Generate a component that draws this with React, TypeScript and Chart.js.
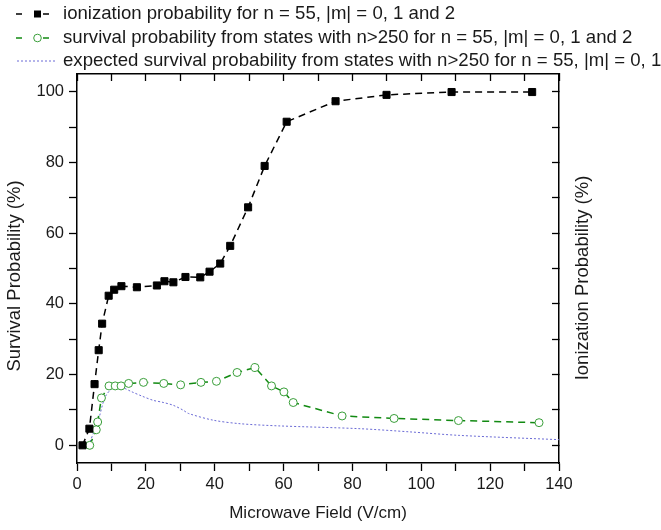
import React, { useEffect, useRef } from "react";
import { Chart, registerables } from "chart.js";

Chart.register(...registerables);

// Ionization probability (black squares)
const ionField = [1.6, 3.6, 5.1, 6.3, 7.3, 9.2, 10.8, 12.9, 17.4, 23.2, 25.4, 28.0, 31.5, 35.8, 38.5, 41.6, 44.5, 49.7, 54.5, 60.9, 75.1, 89.9, 108.8, 132.2];
const ionProb = [0, 4.7, 17.3, 26.9, 34.4, 42.3, 44.0, 45.0, 44.7, 45.2, 46.4, 46.1, 47.6, 47.5, 49.1, 51.4, 56.4, 67.3, 79.0, 91.5, 97.3, 99.1, 99.9, 99.9];

// Survival probability (green open circles)
const survField = [3.7, 5.6, 6.0, 7.1, 9.3, 11.1, 12.8, 15.0, 19.3, 25.2, 30.1, 36.0, 40.5, 46.5, 51.7, 56.5, 60.1, 62.8, 77.0, 92.1, 110.8, 134.2];
const survProb = [0, 4.4, 6.6, 13.4, 16.8, 16.8, 16.8, 17.5, 17.8, 17.5, 17.1, 17.8, 18.1, 20.6, 22.0, 16.8, 15.1, 12.1, 8.3, 7.6, 7.0, 6.4];

// Expected survival probability (blue dotted)
const expField = [3.4, 6.3, 8.2, 10.6, 12.1, 16.0, 18.9, 22.2, 24.7, 28.0, 30.9, 32.4, 39.6, 47.5, 58.5, 82.2, 96.7, 111.2, 140];
const expProb = [0, 7.5, 13.7, 16.5, 16.8, 15.1, 13.9, 12.7, 12.2, 11.3, 9.9, 9.0, 7.1, 6.1, 5.5, 4.7, 3.8, 2.8, 1.6];

const xTickValues = [0, 10, 20, 30, 40, 50, 60, 70, 80, 90, 100, 110, 120, 130, 140];
const yTickValues = [0, 10, 20, 30, 40, 50, 60, 70, 80, 90, 100];
const xTicksLabeled = [0, 20, 40, 60, 80, 100, 120, 140];
const yTicksLabeled = [0, 20, 40, 60, 80, 100];

const legendLabels = [
  "ionization probability for n = 55, |m| = 0, 1 and 2",
  "survival probability from states with n>250 for n = 55, |m| = 0, 1 and 2",
  "expected survival probability from states with n>250 for n = 55, |m| = 0, 1 and 2",
];
const xTitle = "Microwave Field (V/cm)";
const yTitle = "Survival Probability (%)";
const y2Title = "Ionization Probability (%)";

const FONT = '"Liberation Sans", Arial, sans-serif';
const BLACK = "#000000";
const GREEN_LINE = "#128a12";
const GREEN_PT = "#3a9f3a";
const BLUE = "#6b6bd6";

const toXY = (xs: number[], ys: number[]) => xs.map((x, i) => ({ x, y: ys[i] }));

export default function App() {
  const ref = useRef<HTMLCanvasElement | null>(null);

  useEffect(() => {
    const canvas = ref.current;
    if (!canvas) return;
    document.body.style.margin = "0";

    const decor = {
      id: "decor",
      beforeDraw(chart: any) {
        const ctx = chart.ctx;
        ctx.save();
        ctx.fillStyle = "#ffffff";
        ctx.fillRect(0, 0, chart.width, chart.height);
        ctx.restore();
      },
      afterDraw(chart: any) {
        const ctx = chart.ctx;
        const ca = chart.chartArea;
        ctx.save();
        ctx.fillStyle = "#1a1a1a";
        ctx.textBaseline = "middle";
        // axis titles
        ctx.textAlign = "center";
        ctx.font = `17px ${FONT}`;
        ctx.fillText(xTitle, (ca.left + ca.right) / 2, 513);
        ctx.font = `18.5px ${FONT}`;
        ctx.save();
        ctx.translate(15, 276);
        ctx.rotate(-Math.PI / 2);
        ctx.fillText(yTitle, 0, 0);
        ctx.restore();
        ctx.save();
        ctx.translate(583, 278);
        ctx.rotate(-Math.PI / 2);
        ctx.fillText(y2Title, 0, 0);
        ctx.restore();

        // legend
        const rows = [14, 38, 61];
        ctx.font = `18.6px ${FONT}`;
        ctx.textAlign = "left";
        legendLabels.forEach((t, i) => ctx.fillText(t, 63, rows[i]));

        // row 1 symbol
        ctx.strokeStyle = BLACK;
        ctx.lineWidth = 1.5;
        ctx.beginPath();
        ctx.moveTo(16, rows[0]); ctx.lineTo(22, rows[0]);
        ctx.moveTo(43, rows[0]); ctx.lineTo(49, rows[0]);
        ctx.stroke();
        ctx.fillStyle = BLACK;
        ctx.fillRect(34, rows[0] - 3.5, 7, 7);

        // row 2 symbol
        ctx.strokeStyle = GREEN_LINE;
        ctx.beginPath();
        ctx.moveTo(16, rows[1]); ctx.lineTo(22, rows[1]);
        ctx.moveTo(43, rows[1]); ctx.lineTo(49, rows[1]);
        ctx.stroke();
        ctx.strokeStyle = GREEN_PT;
        ctx.lineWidth = 1;
        ctx.fillStyle = "#ffffff";
        ctx.beginPath();
        ctx.arc(37.5, rows[1], 3.8, 0, Math.PI * 2);
        ctx.fill();
        ctx.stroke();

        // row 3 symbol
        ctx.strokeStyle = BLUE;
        ctx.lineWidth = 1;
        ctx.setLineDash([2, 2]);
        ctx.beginPath();
        ctx.moveTo(17, rows[2]); ctx.lineTo(57, rows[2]);
        ctx.stroke();
        ctx.restore();
      },
    };

    const setTicks = (values: number[]) => (scale: any) => {
      scale.ticks = values.map((v) => ({ value: v }));
    };

    const tickFont = { family: FONT, size: 16.5 };

    const chart = new Chart(canvas, {
      type: "line",
      data: {
        datasets: [
          {
            label: legendLabels[0],
            data: toXY(ionField, ionProb),
            borderColor: BLACK,
            borderWidth: 1.5,
            borderDash: [7, 5],
            pointStyle: "rect",
            pointRadius: 5,
            pointBackgroundColor: BLACK,
            pointBorderColor: BLACK,
            pointBorderWidth: 1,
            tension: 0,
            xAxisID: "x",
            yAxisID: "y",
          },
          {
            label: legendLabels[1],
            data: toXY(survField, survProb),
            borderColor: GREEN_LINE,
            borderWidth: 1.5,
            borderDash: [7, 5],
            pointStyle: "circle",
            pointRadius: 4,
            pointBackgroundColor: "#ffffff",
            pointBorderColor: GREEN_PT,
            pointBorderWidth: 1,
            tension: 0,
            xAxisID: "x",
            yAxisID: "y",
          },
          {
            label: legendLabels[2],
            data: toXY(expField, expProb),
            borderColor: BLUE,
            borderWidth: 1,
            borderDash: [2, 2],
            pointRadius: 0,
            tension: 0.3,
            xAxisID: "x",
            yAxisID: "y",
          },
        ],
      },
      options: {
        animation: false,
        responsive: false,
        devicePixelRatio: 1,
        layout: { padding: 0 },
        plugins: {
          legend: { display: false },
          tooltip: { enabled: false },
        },
        scales: {
          x: {
            type: "linear",
            position: "bottom",
            min: 0,
            max: 140,
            afterBuildTicks: setTicks(xTickValues),
            ticks: {
              autoSkip: false,
              maxRotation: 0,
              padding: 4,
              color: "#1a1a1a",
              font: tickFont,
              callback: (v: any) => (xTicksLabeled.includes(Number(v)) ? String(v) : ""),
            },
            grid: { drawOnChartArea: false, drawTicks: true, tickLength: 8, tickColor: BLACK, tickWidth: 1.3 },
            border: { color: BLACK, width: 1.5 },
            afterFit: (s: any) => { s.height = 67; },
          },
          x2: {
            type: "linear",
            position: "top",
            min: 0,
            max: 140,
            afterBuildTicks: setTicks(xTickValues),
            ticks: { display: false },
            grid: { drawOnChartArea: false, drawTicks: true, tickLength: -7, tickColor: BLACK, tickWidth: 1.3 },
            border: { color: BLACK, width: 1.5 },
            afterFit: (s: any) => { s.height = 74; },
          },
          y: {
            type: "linear",
            position: "left",
            min: -5,
            max: 105,
            afterBuildTicks: setTicks(yTickValues),
            ticks: {
              autoSkip: false,
              padding: 5,
              color: "#1a1a1a",
              font: tickFont,
              callback: (v: any) => (yTicksLabeled.includes(Number(v)) ? String(v) : ""),
            },
            grid: { drawOnChartArea: false, drawTicks: true, tickLength: 8, tickColor: BLACK, tickWidth: 1.3 },
            border: { color: BLACK, width: 1.5 },
            afterFit: (s: any) => { s.width = 77; },
          },
          y2: {
            type: "linear",
            position: "right",
            min: -5,
            max: 105,
            afterBuildTicks: setTicks(yTickValues),
            ticks: { display: false },
            grid: { drawOnChartArea: false, drawTicks: true, tickLength: -7, tickColor: BLACK, tickWidth: 1.3 },
            border: { color: BLACK, width: 1.5 },
            afterFit: (s: any) => { s.width = 102; },
          },
        },
      } as any,
      plugins: [decor],
    });

    return () => chart.destroy();
  }, []);

  return (
    <div style={{ position: "fixed", left: 0, top: 0, width: 661, height: 530 }}>
      <canvas ref={ref} width={661} height={530} />
    </div>
  );
}
